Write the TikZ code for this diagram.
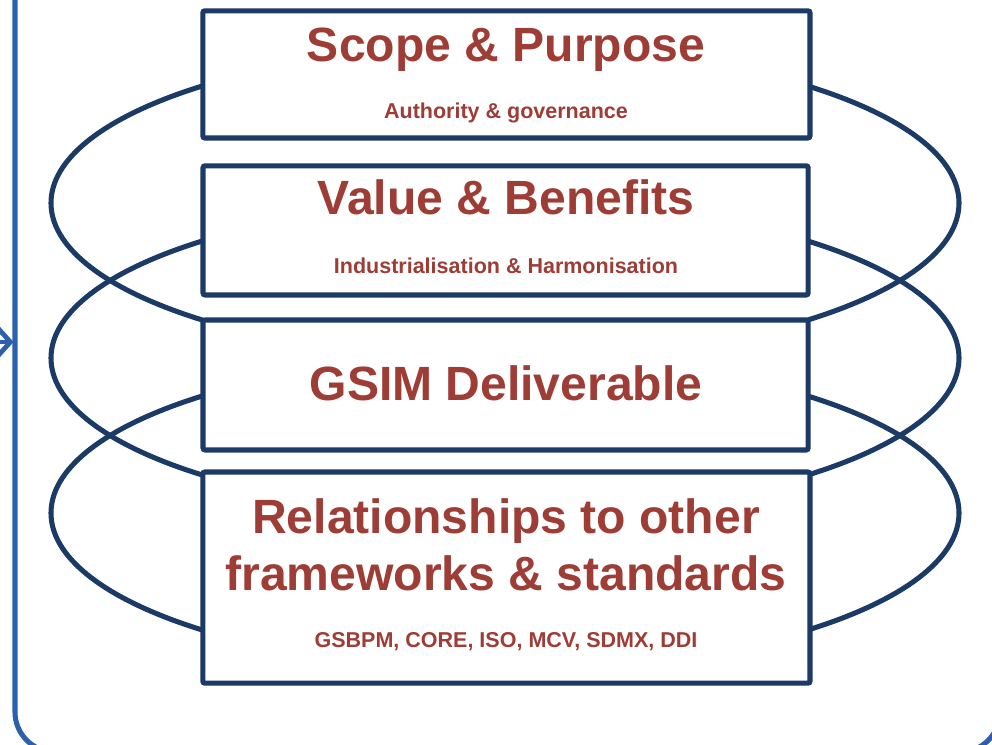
\documentclass[tikz,border=0pt]{standalone}
\usepackage{fontspec}
\setmainfont{Liberation Sans}
\usepackage{tikz}
\usetikzlibrary{arrows.meta}

\definecolor{navy}{HTML}{1B3A66}
\definecolor{brick}{HTML}{9E3D36}
\definecolor{frameblue}{HTML}{2C60AC}

\tikzset{
	ring/.style = {draw = navy, line width = 3.6pt},
	layer/.style = {draw = navy, line width = 3.6pt, fill = white, rounded corners = 1.5pt, inner sep = 0pt},
	title/.style = {text = brick, font = \bfseries\fontsize{34.2}{40}\selectfont, anchor = base, inner sep = 0pt},
	subtitle/.style = {text = brick, font = \bfseries\fontsize{15.3}{18}\selectfont, anchor = base, inner sep = 0pt}
}

\begin{document}
\begin{tikzpicture}
	\useasboundingbox (0,0) rectangle (24.8,-18.625);
	\begin{scope}
	\clip (0,0) rectangle (24.8,-18.625);
	%% outer frame and the arrow coming in from the left
	\draw[draw = frameblue, line width = 3.6pt, rounded corners = 1cm] (0.375,1) rectangle (25,-18.8);
	\coordinate (inlet) at (-0.3,-8.55);
	\coordinate (edge) at (0.34,-8.55);
	\draw[draw = frameblue, line width = 3.4pt, -{Straight Barb[length = 9pt, width = 20pt]}] (inlet) -- (edge);
	\end{scope}
	%% the three rings behind the layers
	\draw[ring] (12.625,-5.075) ellipse (11.35 and 3.925);
	\draw[ring] (12.625,-8.95) ellipse (11.35 and 3.925);
	\draw[ring] (12.625,-12.825) ellipse (11.35 and 3.925);
	%% layers
	\node[layer, minimum width = 15.18cm, minimum height = 3.18cm] (scope) at (12.66,-1.86) {};
	\node[layer, minimum width = 15.13cm, minimum height = 3.23cm] (value) at (12.64,-5.76) {};
	\node[layer, minimum width = 15.13cm, minimum height = 3.25cm] (gsim) at (12.64,-9.625) {};
	\node[layer, minimum width = 15.18cm, minimum height = 5.28cm] (relations) at (12.66,-14.44) {};
	%% texts
	\node[title] (scopeT) at (12.65,-1.55) {Scope \& Purpose};
	\node[subtitle] (scopeS) at (12.65,-2.965) {Authority \& governance};
	\node[title] (valueT) at (12.65,-5.375) {Value \& Benefits};
	\node[subtitle] (valueS) at (12.65,-6.825) {Industrialisation \& Harmonisation};
	\node[title] (gsimT) at (12.65,-10.0) {GSIM Deliverable};
	\node[title] (relT) at (12.65,-13.325) {Relationships to other};
	\node[title] (relU) at (12.65,-14.75) {frameworks \& standards};
	\node[subtitle] (relS) at (12.65,-16.175) {GSBPM, CORE, ISO, MCV, SDMX, DDI};
\end{tikzpicture}
\end{document}
